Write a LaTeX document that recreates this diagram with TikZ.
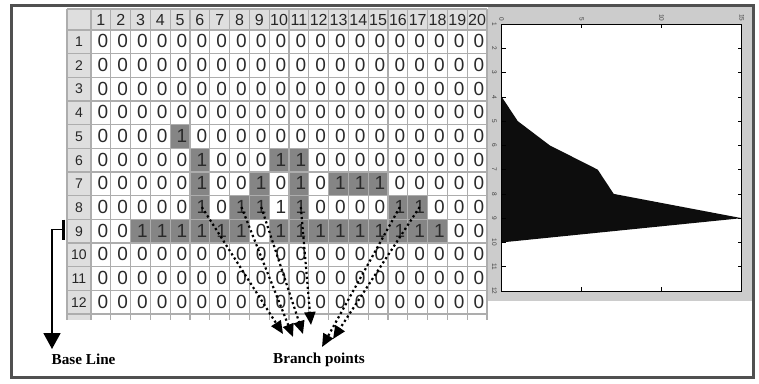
\documentclass[tikz,border=0pt]{standalone}
\usepackage{fontspec}
\setmainfont{Liberation Serif}
\newfontfamily\sheetfont{Liberation Sans}
\usetikzlibrary{arrows.meta}
\definecolor{framegray}{HTML}{505050}
\definecolor{gridline}{HTML}{ADADAD}
\definecolor{hdrfill}{HTML}{DEDEDE}
\definecolor{onefill}{HTML}{858585}
\definecolor{panelgray}{HTML}{CCCCCC}
\definecolor{digit}{HTML}{2A2A2A}
\begin{document}
\begin{tikzpicture}[x=1pt,y=-1pt,
  celltxt/.style={font=\sheetfont\fontsize{19}{19}\selectfont, text=digit, inner sep=0pt, anchor=east},
  colhdr/.style={font=\sheetfont\fontsize{16}{16}\selectfont, text=black!85, inner sep=0pt},
  rowhdr/.style={font=\sheetfont\fontsize{14}{14}\selectfont, text=black!85, inner sep=0pt},
  ticklbl/.style={font=\sheetfont\fontsize{6.5}{6.5}\selectfont, text=black!75, inner sep=0pt, rotate=-90},
  lbl/.style={font=\bfseries\fontsize{15.2}{17}\selectfont, inner sep=0pt},
  gridl/.style={draw=gridline, line width=1.2pt},
  branch/.style={line width=2.2pt, dash pattern=on 2.2pt off 2.8pt, -{Triangle[length=13pt,width=11pt]}},
]
\useasboundingbox (0,0) rectangle (759,383);
\fill[white] (0,0) rectangle (759,383);

% ---------- spreadsheet ----------
\fill[hdrfill] (67,9) rectangle (487,30);
\fill[hdrfill] (67,30) rectangle (91,320);
\foreach \r/\vals in {
  1/{0,0,0,0,0,0,0,0,0,0,0,0,0,0,0,0,0,0,0,0},
  2/{0,0,0,0,0,0,0,0,0,0,0,0,0,0,0,0,0,0,0,0},
  3/{0,0,0,0,0,0,0,0,0,0,0,0,0,0,0,0,0,0,0,0},
  4/{0,0,0,0,0,0,0,0,0,0,0,0,0,0,0,0,0,0,0,0},
  5/{0,0,0,0,1,0,0,0,0,0,0,0,0,0,0,0,0,0,0,0},
  6/{0,0,0,0,0,1,0,0,0,1,1,0,0,0,0,0,0,0,0,0},
  7/{0,0,0,0,0,1,0,0,1,0,1,0,1,1,1,0,0,0,0,0},
  8/{0,0,0,0,0,1,0,1,1,2,1,0,0,0,0,1,1,0,0,0},
  9/{0,0,1,1,1,1,1,1,0,1,1,1,1,1,1,1,1,1,0,0},
  10/{0,0,0,0,0,0,0,0,0,0,0,0,0,0,0,0,0,0,0,0},
  11/{0,0,0,0,0,0,0,0,0,0,0,0,0,0,0,0,0,0,0,0},
  12/{0,0,0,0,0,0,0,0,0,0,0,0,0,0,0,0,0,0,0,0}} {
  \foreach \v [count=\c] in \vals {
    \ifnum\v=1\relax
      \fill[onefill] ({91+(\c-1)*19.8},{30+(\r-1)*23.67}) rectangle ++(19.8,23.67);
    \fi
  }
}
\foreach \i in {0,...,20} \draw[gridl] ({91+\i*19.8},9) -- ({91+\i*19.8},320);
\draw[gridl] (67,9) -- (67,320);
\draw[gridl] (67,9) -- (487,9);
\foreach \j in {0,...,12} \draw[gridl] (67,{30+\j*23.67}) -- (487,{30+\j*23.67});

\foreach \r/\vals in {
  1/{0,0,0,0,0,0,0,0,0,0,0,0,0,0,0,0,0,0,0,0},
  2/{0,0,0,0,0,0,0,0,0,0,0,0,0,0,0,0,0,0,0,0},
  3/{0,0,0,0,0,0,0,0,0,0,0,0,0,0,0,0,0,0,0,0},
  4/{0,0,0,0,0,0,0,0,0,0,0,0,0,0,0,0,0,0,0,0},
  5/{0,0,0,0,1,0,0,0,0,0,0,0,0,0,0,0,0,0,0,0},
  6/{0,0,0,0,0,1,0,0,0,1,1,0,0,0,0,0,0,0,0,0},
  7/{0,0,0,0,0,1,0,0,1,0,1,0,1,1,1,0,0,0,0,0},
  8/{0,0,0,0,0,1,0,1,1,2,1,0,0,0,0,1,1,0,0,0},
  9/{0,0,1,1,1,1,1,1,0,1,1,1,1,1,1,1,1,1,0,0},
  10/{0,0,0,0,0,0,0,0,0,0,0,0,0,0,0,0,0,0,0,0},
  11/{0,0,0,0,0,0,0,0,0,0,0,0,0,0,0,0,0,0,0,0},
  12/{0,0,0,0,0,0,0,0,0,0,0,0,0,0,0,0,0,0,0,0}} {
  \foreach \v [count=\c] in \vals {
    \node[celltxt] (c-\r-\c) at ({91+\c*19.8-2.5},{30+(\r-0.52)*23.67}) {\ifnum\v=0 0\else 1\fi};
  }
}
\foreach \c in {1,...,20} \node[colhdr] (h-\c) at ({91+(\c-0.5)*19.8},19.8) {\c};
\foreach \r in {1,...,12} \node[rowhdr] (rh-\r) at (79,{30+(\r-0.5)*23.67}) {\r};

% ---------- profile plot ----------
\fill[panelgray] (488,7) rectangle (751.5,300.5);
\begin{scope}[shift={(501.7,24)}, x=16pt, y=-24.27pt]
  \fill[white] (0,0) rectangle (15,11);
  \fill[black!95] (0,3) -- (1,4) -- (3,5) -- (6,6) -- (7,7) -- (15,8) -- (0,9) -- cycle;
  \draw[line width=0.6pt] (0,0) rectangle (15,11);
  \foreach \k in {0,...,11} {
    \draw[line width=0.5pt] (0,\k) -- (0.25,\k);
    \draw[line width=0.5pt] (15,\k) -- (14.75,\k);
  }
  \foreach \v in {5,10} {
    \draw[line width=0.5pt] (\v,0) -- (\v,0.16);
    \draw[line width=0.5pt] (\v,11) -- (\v,10.84);
  }
  \foreach \v in {0,5,10,15} \node[ticklbl, anchor=east] (xl-\v) at (\v,-0.1) {\v};
  \foreach \k in {1,...,12} \node[ticklbl, anchor=north] (yl-\k) at (-0.3,\k-1) {\k};
\end{scope}

% ---------- base line marker ----------
\coordinate (bl-top) at (63.5,219.5);
\coordinate (bl-bot) at (63.5,239.5);
\coordinate (bl-mid) at (63.5,229.5);
\coordinate (bl-tip) at (52,349);
\draw[line width=3pt] (bl-top) -- (bl-bot);
\draw[line width=1.8pt, -{Triangle[length=16pt,width=17pt]}] (bl-mid) -| (bl-tip);
\node[lbl, anchor=base west] (baseline) at (51.5,364) {Base Line};

% ---------- branch points ----------
\node[lbl, anchor=base] (bp) at (319,363.5) {Branch points};
\coordinate (e1) at (283,334);
\coordinate (e2) at (293,337);
\coordinate (e3) at (303,334);
\coordinate (e4) at (311,325);
\coordinate (e5) at (322,347);
\coordinate (e6) at (333,339);
\draw[branch] (c-8-6.center) -- (e1);
\draw[branch] (c-8-8.center) -- (e2);
\draw[branch] (c-8-9.center) -- (e3);
\draw[branch] (c-8-11.center) -- (e4);
\draw[branch] (c-8-16.center) -- (e5);
\draw[branch] (c-8-17.center) -- (e6);

% ---------- frame ----------
\draw[framegray, line width=3pt] (11.5,5.5) rectangle (753.5,377.5);
\end{tikzpicture}
\end{document}
